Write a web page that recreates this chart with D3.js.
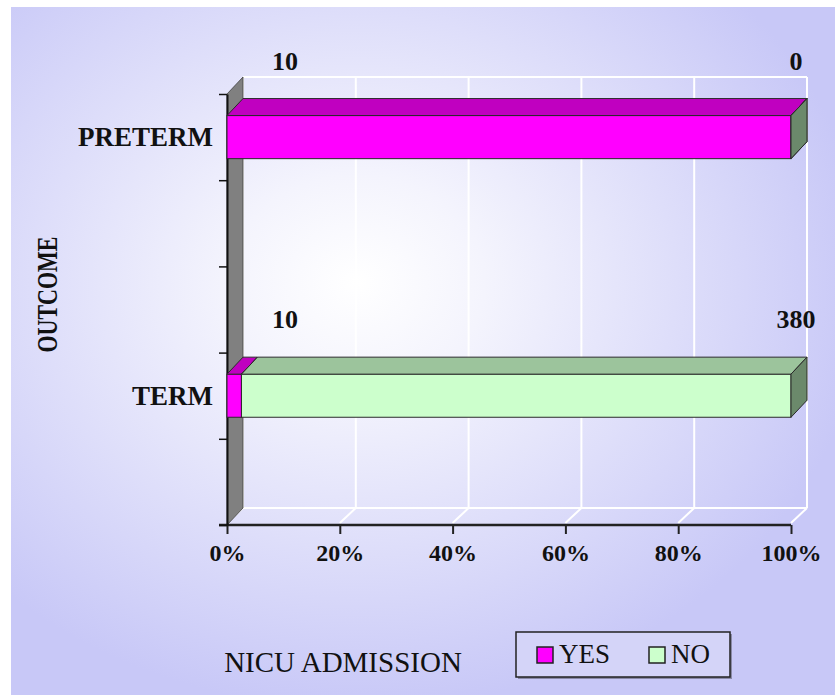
<!DOCTYPE html>
<html>
<head>
<meta charset="utf-8">
<script src="https://cdn.jsdelivr.net/npm/d3@7"></script>
<style>
  body { margin: 0; background: #ffffff; }
  svg text { font-family: "Liberation Serif", "Times New Roman", serif; }
</style>
</head>
<body>
<div id="chart"></div>
<script>

var svg_width = 835;
var svg_height = 695;

// category axis has 5 slots, only two of them are used
var rows = ["PRETERM", "", "", "TERM", ""];
var categories = ["PRETERM", "TERM"];
var seriesNames = ["YES", "NO"];
var yesValues = [10, 10];
var noValues = [0, 380];
var xTicks = [0, 0.2, 0.4, 0.6, 0.8, 1];
var seriesColors = {
    YES: { front: "#ff00ff", top: "#c000c0", side: "#800080" },
    NO:  { front: "#ccffcc", top: "#9cc49c", side: "#6b896b" }
};

var plotLeft = 227, plotRight = 791, plotTop = 94, plotBottom = 525;
var dx = 16, dy = -17;   // 3d depth offset

var svg = d3.select("#chart").append("svg")
    .attr("width", svg_width)
    .attr("height", svg_height);

var defs = svg.append("defs");
var grad = defs.append("radialGradient")
    .attr("id", "bg")
    .attr("cx", "0.42").attr("cy", "0.40").attr("r", "0.62");
grad.append("stop").attr("offset", "0").attr("stop-color", "#ffffff");
grad.append("stop").attr("offset", "0.25").attr("stop-color", "#f4f4fd");
grad.append("stop").attr("offset", "1").attr("stop-color", "#c8c8f7");

svg.append("rect")
    .attr("x", 11).attr("y", 7)
    .attr("width", svg_width - 11).attr("height", svg_height - 7)
    .attr("fill", "url(#bg)");

var x = d3.scaleLinear().domain([0, 1]).range([plotLeft, plotRight]);
var y = d3.scaleBand().domain(d3.range(rows.length))
    .range([plotTop, plotBottom])
    .paddingInner(0.5).paddingOuter(0.25);
var yEdge = d3.scaleLinear().domain([0, rows.length]).range([plotTop, plotBottom]);

// back wall and floor grid
var grid = svg.append("g").attr("class", "grid")
    .attr("stroke", "#ffffff").attr("stroke-width", 2).attr("fill", "none");

grid.selectAll(".vline")
    .data(xTicks)
    .enter().append("line")
    .attr("x1", function(d) { return x(d) + dx; })
    .attr("x2", function(d) { return x(d) + dx; })
    .attr("y1", plotTop + dy)
    .attr("y2", plotBottom + dy);

grid.selectAll(".fline")
    .data(xTicks)
    .enter().append("line")
    .attr("x1", function(d) { return x(d); })
    .attr("x2", function(d) { return x(d) + dx; })
    .attr("y1", plotBottom - 2)
    .attr("y2", plotBottom + dy);

grid.append("line")
    .attr("x1", x(0) + dx).attr("x2", x(1) + dx)
    .attr("y1", plotTop + dy).attr("y2", plotTop + dy);
grid.append("line")
    .attr("x1", x(0) + dx).attr("x2", x(1) + dx)
    .attr("y1", plotBottom + dy).attr("y2", plotBottom + dy);

// grey side wall
svg.append("path")
    .attr("d", "M" + plotLeft + "," + plotTop + "L" + (plotLeft + dx) + "," + (plotTop + dy) +
        "L" + (plotLeft + dx) + "," + (plotBottom + dy) + "L" + plotLeft + "," + plotBottom + "Z")
    .attr("fill", "#808080")
    .attr("stroke", "#404040")
    .attr("stroke-width", 0.8);

// axes
var xAxis = svg.append("g")
    .attr("transform", "translate(0," + plotBottom + ")")
    .call(d3.axisBottom(x).tickValues(xTicks).tickSize(9).tickSizeOuter(0)
        .tickFormat(d3.format(".0%")));
xAxis.select(".domain").attr("stroke", "#222").attr("stroke-width", 2.5)
    .attr("d", "M" + (plotLeft - 8) + ",0H" + plotRight);
xAxis.selectAll(".tick line").attr("stroke", "#222").attr("stroke-width", 2);
xAxis.selectAll(".tick text")
    .attr("y", 36).attr("dy", 0)
    .attr("fill", "#111")
    .style("font-family", "Liberation Serif, serif")
    .style("font-size", "24px")
    .style("font-weight", "bold");

var yAxis = svg.append("g")
    .attr("transform", "translate(" + plotLeft + ",0)")
    .call(d3.axisLeft(yEdge).ticks(rows.length).tickSize(8).tickSizeOuter(0)
        .tickFormat(""));
yAxis.select(".domain").attr("stroke", "#111").attr("stroke-width", 2);
yAxis.selectAll(".tick line").attr("stroke", "#111").attr("stroke-width", 1.5);

// category labels
svg.selectAll(".cat")
    .data(categories)
    .enter().append("text")
    .attr("class", "cat")
    .attr("x", plotLeft - 14)
    .attr("y", function(d) { return y(rows.indexOf(d)) + y.bandwidth() / 2 + 9; })
    .attr("text-anchor", "end")
    .style("font-size", "27px")
    .style("font-weight", "bold")
    .attr("fill", "#111")
    .text(function(d) { return d; });

// stacked 3d bars
var stacks = categories.map(function(c, i) {
    var vals = [yesValues[i], noValues[i]];
    var total = d3.sum(vals);
    var acc = 0;
    return seriesNames.map(function(s, j) {
        var seg = { cat: c, series: s, value: vals[j], x0: acc / total, x1: (acc + vals[j]) / total };
        acc += vals[j];
        return seg;
    });
});

function quad(pts) {
    return "M" + pts.map(function(p) { return p.join(","); }).join("L") + "Z";
}

var bars = svg.selectAll(".bar")
    .data(stacks)
    .enter().append("g")
    .attr("class", "bar");

bars.each(function(segs) {
    var g = d3.select(this);
    segs.forEach(function(d) {
        var y0 = y(rows.indexOf(d.cat)), y1 = y0 + y.bandwidth();
        var xa = x(d.x0), xb = x(d.x1);
        var col = seriesColors[d.series];
        g.append("rect")
            .attr("x", xa).attr("y", y0)
            .attr("width", xb - xa).attr("height", y1 - y0)
            .attr("fill", col.front).attr("stroke", "#2a2a2a").attr("stroke-width", 1);
        g.append("path")
            .attr("d", quad([[xa, y0], [xa + dx, y0 + dy], [xb + dx, y0 + dy], [xb, y0]]))
            .attr("fill", col.top).attr("stroke", "#2a2a2a").attr("stroke-width", 1);
        g.append("path")
            .attr("d", quad([[xb, y0], [xb + dx, y0 + dy], [xb + dx, y1 + dy], [xb, y1]]))
            .attr("fill", col.side).attr("stroke", "#2a2a2a").attr("stroke-width", 1);
    });
});

// value labels
var labels = svg.append("g").attr("class", "labels");
stacks.forEach(function(segs) {
    segs.forEach(function(d) {
        var y0 = y(rows.indexOf(d.cat));
        labels.append("text")
            .attr("x", d.series == "YES" ? x(0) + 58 : x(1) + 5)
            .attr("y", y0 - 46)
            .attr("text-anchor", "middle")
            .style("font-size", "26px")
            .style("font-weight", "bold")
            .attr("fill", "#111")
            .text(d.value);
    });
});

// axis titles
svg.append("text")
    .attr("transform", "translate(57," + ((plotTop + plotBottom) / 2 - 15) + ") rotate(-90) scale(1,1.3)")
    .attr("text-anchor", "middle")
    .style("font-size", "22px")
    .style("font-weight", "bold")
    .attr("fill", "#111")
    .text("OUTCOME");

svg.append("text")
    .attr("x", 343)
    .attr("y", 672)
    .attr("text-anchor", "middle")
    .style("font-size", "29px")
    .attr("fill", "#111")
    .text("NICU ADMISSION");

// legend
var legend = svg.append("g").attr("class", "legend");
legend.append("rect")
    .attr("x", 518).attr("y", 634).attr("width", 214).attr("height", 45)
    .attr("fill", "#8a8aa8");
legend.append("rect")
    .attr("x", 516).attr("y", 632).attr("width", 214).attr("height", 45)
    .attr("fill", "#d4d4f8").attr("stroke", "#222").attr("stroke-width", 1.5);

var legendX = d3.scalePoint().domain(seriesNames).range([537, 649]);
var item = legend.selectAll(".item")
    .data(seriesNames)
    .enter().append("g")
    .attr("class", "item")
    .attr("transform", function(d) { return "translate(" + legendX(d) + ",647)"; });
item.append("rect")
    .attr("width", 16).attr("height", 16)
    .attr("fill", function(d) { return seriesColors[d].front; })
    .attr("stroke", "#222").attr("stroke-width", 1.5);
item.append("text")
    .attr("x", 22).attr("y", 16)
    .style("font-size", "27px")
    .attr("fill", "#111")
    .text(function(d) { return d; });

</script>
</body>
</html>
